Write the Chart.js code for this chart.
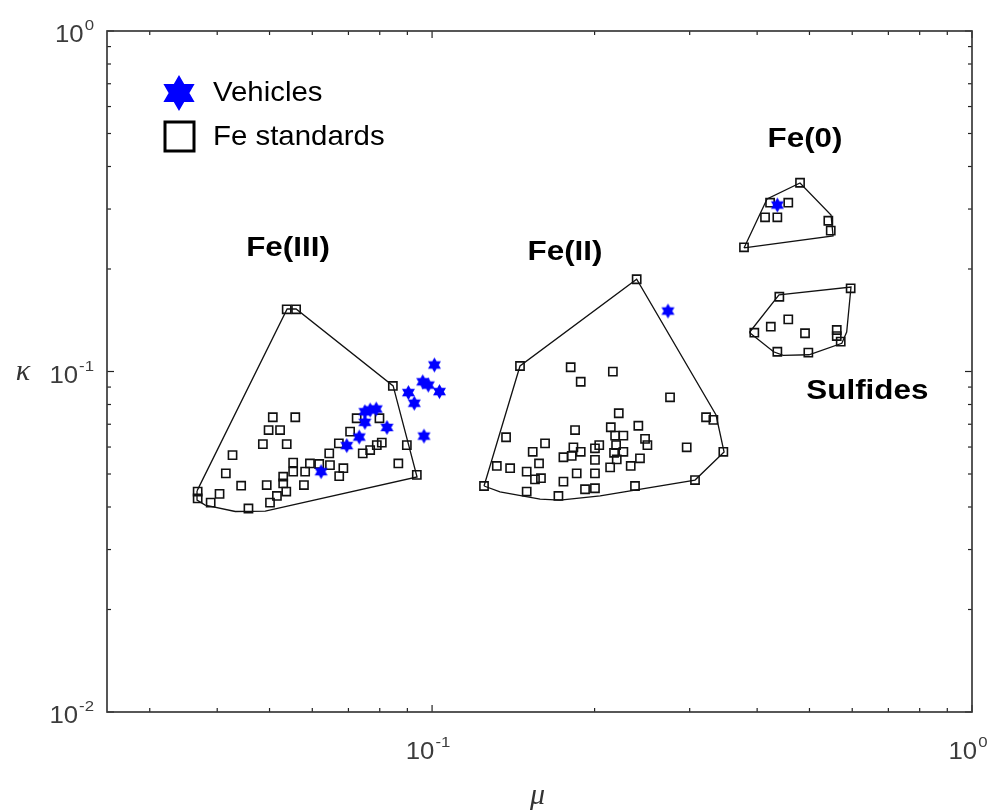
<!DOCTYPE html>
<html>
<head>
<meta charset="utf-8">
<script src="https://cdn.jsdelivr.net/npm/chart.js@4/dist/chart.umd.min.js"></script>
<style>
  html, body { margin: 0; padding: 0; background: #fff; }
  #wrap { width: 997px; height: 810px; }
</style>
</head>
<body>
<div id="wrap"><canvas id="chart" width="997" height="810"></canvas></div>
<script>
// ---- Fe standards, [mu, kappa] ----
const fe3Standards = [
  [0.0538,0.1523],[0.0560,0.1523],[0.0846,0.0907],[0.0507,0.0734],[0.0558,0.0734],
  [0.0498,0.0673],[0.0523,0.0673],[0.0486,0.0612],[0.0538,0.0612],[0.0427,0.0568],
  [0.0415,0.0502],[0.0443,0.0462],[0.0368,0.0444],[0.0368,0.0424],[0.0404,0.0437],
  [0.0389,0.0412],[0.0457,0.0396],[0.0501,0.0412],[0.0494,0.0464],[0.0516,0.0431],
  [0.0530,0.0469],[0.0537,0.0444],[0.0530,0.0491],[0.0553,0.0540],[0.0553,0.0508],
  [0.0579,0.0464],[0.0582,0.0508],[0.0594,0.0537],[0.0618,0.0535],[0.0645,0.0575],
  [0.0647,0.0531],[0.0672,0.0615],[0.0685,0.0520],[0.0673,0.0493],[0.0705,0.0666],
  [0.0725,0.0729],[0.0744,0.0575],[0.0768,0.0588],[0.0790,0.0608],[0.0807,0.0618],
  [0.0799,0.0729],[0.0898,0.0608],[0.0866,0.0537],[0.0937,0.0497]
];
const fe2Standards = [
  [0.2393,0.1866],[0.1455,0.1038],[0.1806,0.1029],[0.2162,0.0999],[0.1885,0.0933],
  [0.2759,0.0840],[0.2217,0.0754],[0.3217,0.0734],[0.3319,0.0721],[0.1371,0.0641],
  [0.1840,0.0673],[0.2143,0.0686],[0.2410,0.0693],[0.2183,0.0648],[0.2261,0.0648],
  [0.2480,0.0634],[0.2505,0.0608],[0.1619,0.0615],[0.1536,0.0581],[0.1751,0.0560],
  [0.1814,0.0565],[0.1827,0.0599],[0.1885,0.0581],[0.2003,0.0595],[0.2040,0.0608],
  [0.2003,0.0550],[0.2192,0.0608],[0.2173,0.0577],[0.2261,0.0581],[0.2198,0.0552],
  [0.2427,0.0556],[0.2333,0.0528],[0.2137,0.0523],[0.2962,0.0599],[0.3463,0.0581],
  [0.1318,0.0528],[0.1395,0.0520],[0.1497,0.0508],[0.1578,0.0537],[0.1551,0.0482],
  [0.1591,0.0486],[0.1853,0.0502],[0.2003,0.0502],[0.1751,0.0475],[0.1920,0.0451],
  [0.2003,0.0454],[0.1248,0.0461],[0.1497,0.0444],[0.1714,0.0431],[0.2376,0.0461],
  [0.3069,0.0480]
];
const fe0Standards = [
  [0.4803,0.3584],[0.4227,0.3131],[0.4568,0.3131],[0.4137,0.2837],[0.4360,0.2837],
  [0.5419,0.2772],[0.5475,0.2592],[0.3782,0.2316]
];
const sulfideStandards = [
  [0.5960,0.1755],[0.4397,0.1658],[0.4568,0.1423],[0.4240,0.1354],[0.3952,0.1300],
  [0.4906,0.1295],[0.5617,0.1324],[0.5617,0.1271],[0.5713,0.1224],[0.4360,0.1143],
  [0.4976,0.1136]
];

// ---- Vehicle samples, [mu, kappa] ----
const vehicles = [
  [0.1010,0.1045],[0.0961,0.0933],[0.0984,0.0912],[0.1032,0.0873],[0.0904,0.0867],
  [0.0927,0.0807],[0.0966,0.0646],[0.0751,0.0762],[0.0788,0.0776],[0.0768,0.0771],
  [0.0751,0.0709],[0.0825,0.0685],[0.0733,0.0642],[0.0695,0.0606],[0.0623,0.0508],
  [0.2735,0.1505],[0.4360,0.3083]
];

// ---- Region outlines (closed polygons), [mu, kappa] ----
const fe3Outline = [
  [0.0367,0.0446],[0.0539,0.1526],[0.0560,0.1526],[0.0847,0.0907],[0.0938,0.0490],
  [0.0491,0.0389],[0.0432,0.0388],[0.0380,0.0405],[0.0367,0.0419],[0.0367,0.0446]
];
const fe2Outline = [
  [0.1248,0.0461],[0.1455,0.1038],[0.2393,0.1866],[0.3357,0.0745],[0.3474,0.0580],
  [0.3069,0.0480],[0.2048,0.0431],[0.1726,0.0419],[0.1585,0.0422],[0.1336,0.0443],
  [0.1248,0.0461]
];
const fe0Outline = [
  [0.3782,0.2306],[0.4173,0.3210],[0.4803,0.3578],[0.5482,0.2882],[0.5529,0.2500],
  [0.3782,0.2306]
];
const sulfideOutline = [
  [0.3870,0.1302],[0.4391,0.1680],[0.5969,0.1770],[0.5860,0.1306],[0.5740,0.1210],
  [0.4990,0.1120],[0.4470,0.1115],[0.4290,0.1143],[0.3870,0.1302]
];

// ---- Axis ticks ----
const xMajorTicks = [0.1, 1];
const xTickExponents = ['-1', '0'];
const yMajorTicks = [1, 0.1, 0.01];
const yTickExponents = ['0', '-1', '-2'];

// ---- Region names, placed at [mu, kappa] ----
const regionNames = ['Fe(III)', 'Fe(II)', 'Fe(0)', 'Sulfides'];
const regionAnchors = [[0.0541, 0.2300], [0.1763, 0.2240], [0.4906, 0.4800], [0.6400, 0.0875]];

const STAR_BLUE = '#0000ff';
const FONT = '"Liberation Sans", Arial, sans-serif';

function hexagramPath(ctx, cx, cy, r) {
  ctx.beginPath();
  for (let t = 0; t < 2; t++) {
    for (let k = 0; k < 3; k++) {
      const ang = (t === 0 ? -Math.PI / 2 : Math.PI / 2) + k * 2 * Math.PI / 3;
      const px = cx + r * Math.cos(ang), py = cy + r * Math.sin(ang);
      if (k === 0) ctx.moveTo(px, py); else ctx.lineTo(px, py);
    }
    ctx.closePath();
  }
}

function makeStarSprite(r) {
  const size = Math.ceil(r * 2 + 2);
  const c = document.createElement('canvas');
  c.width = size; c.height = size;
  const g = c.getContext('2d');
  hexagramPath(g, size / 2, size / 2, r);
  g.fillStyle = STAR_BLUE;
  g.fill('nonzero');
  return c;
}
const starSprite = makeStarSprite(7.5);

const toXY = arr => arr.map(p => ({ x: p[0], y: p[1] }));

function outlineDataset(arr) {
  return {
    data: toXY(arr), showLine: true, pointRadius: 0, borderColor: '#111',
    borderWidth: 1.3, fill: false, tension: 0, order: 3
  };
}
function squaresDataset(arr) {
  return {
    data: toXY(arr), pointStyle: 'rect', pointRadius: 5.8, borderColor: '#111',
    borderWidth: 1.6, backgroundColor: 'rgba(255,255,255,0)', showLine: false, order: 2
  };
}

// text drawn with a slight horizontal widening, anchored at (x, y)
function wideText(ctx, text, x, y, sx, align) {
  const w = ctx.measureText(text).width * sx;
  const left = align === 'center' ? x - w / 2 : (align === 'right' ? x - w : x);
  ctx.save();
  ctx.textAlign = 'left';
  ctx.translate(left, y);
  ctx.scale(sx, 1);
  ctx.fillText(text, 0, 0);
  ctx.restore();
  return w;
}

// draws "10" with a raised exponent; align 'center' or 'right'
function drawPower(ctx, exp, x, yMid, align) {
  const sx = 1.12;
  const baseFont = '23px ' + FONT, expFont = '15px ' + FONT;
  ctx.font = baseFont; const wb = ctx.measureText('10').width * sx;
  ctx.font = expFont; const we = ctx.measureText(exp).width * sx;
  const total = wb + we + 1;
  const left = align === 'right' ? x - total : x - total / 2;
  ctx.textBaseline = 'middle';
  ctx.font = baseFont; wideText(ctx, '10', left, yMid + 5, sx, 'left');
  ctx.font = expFont; wideText(ctx, exp, left + wb + 1, yMid - 5, sx, 'left');
}

const framePlugin = {
  id: 'frame',
  afterDatasetsDraw(chart) {
    const { ctx, chartArea: a, scales: { x, y } } = chart;
    ctx.save();
    const seg = (x1, y1, x2, y2) => { ctx.beginPath(); ctx.moveTo(x1, y1); ctx.lineTo(x2, y2); ctx.stroke(); };

    // minor and major ticks, drawn inward on all four sides
    ctx.strokeStyle = '#222'; ctx.lineWidth = 1.2;
    for (let d = -2; d <= -1; d++) {
      for (let m = 2; m <= 9; m++) {
        const v = m * Math.pow(10, d);
        if (v >= 0.025 && v < 1) {
          const px = x.getPixelForValue(v);
          seg(px, a.bottom, px, a.bottom - 4);
          seg(px, a.top, px, a.top + 4);
        }
        const py = y.getPixelForValue(v);
        seg(a.left, py, a.left + 4, py);
        seg(a.right, py, a.right - 4, py);
      }
    }
    xMajorTicks.forEach(v => {
      const px = x.getPixelForValue(v);
      seg(px, a.bottom, px, a.bottom - 7);
      seg(px, a.top, px, a.top + 7);
    });
    yMajorTicks.forEach(v => {
      const py = y.getPixelForValue(v);
      seg(a.left, py, a.left + 7, py);
      seg(a.right, py, a.right - 7, py);
    });

    // plot box
    ctx.strokeStyle = '#3a3a3a'; ctx.lineWidth = 1.7;
    ctx.strokeRect(a.left, a.top, a.right - a.left, a.bottom - a.top);

    // tick labels
    ctx.fillStyle = '#3c3c3c';
    xMajorTicks.forEach((v, i) => drawPower(ctx, xTickExponents[i], x.getPixelForValue(v) - 4, a.bottom + 36, 'center'));
    yMajorTicks.forEach((v, i) => drawPower(ctx, yTickExponents[i], a.left - 13, y.getPixelForValue(v), 'right'));

    // axis titles
    ctx.fillStyle = '#333';
    ctx.textAlign = 'center'; ctx.textBaseline = 'middle';
    ctx.font = 'italic 30px "Liberation Serif", "Times New Roman", serif';
    ctx.fillText('\u03bc', (a.left + a.right) / 2 - 2, 796);
    ctx.fillText('\u03ba', 23, y.getPixelForValue(0.1) + 1);

    // region names
    ctx.fillStyle = '#000';
    ctx.font = 'bold 28px ' + FONT;
    regionNames.forEach((t, i) => {
      wideText(ctx, t, x.getPixelForValue(regionAnchors[i][0]), y.getPixelForValue(regionAnchors[i][1]), 1.12, 'center');
    });

    // legend
    hexagramPath(ctx, 179, 93, 18);
    ctx.fillStyle = STAR_BLUE; ctx.fill('nonzero');
    ctx.strokeStyle = '#000'; ctx.lineWidth = 3;
    ctx.strokeRect(165, 122, 29, 29);
    ctx.fillStyle = '#000';
    ctx.font = '28px ' + FONT;
    wideText(ctx, 'Vehicles', 213, 93, 1.05, 'left');
    wideText(ctx, 'Fe standards', 213, 137, 1.05, 'left');
    ctx.restore();
  }
};

new Chart(document.getElementById('chart').getContext('2d'), {
  type: 'scatter',
  data: {
    datasets: [
      outlineDataset(fe3Outline), outlineDataset(fe2Outline),
      outlineDataset(fe0Outline), outlineDataset(sulfideOutline),
      squaresDataset(fe3Standards), squaresDataset(fe2Standards),
      squaresDataset(fe0Standards), squaresDataset(sulfideStandards),
      { label: 'Vehicles', data: toXY(vehicles), pointStyle: starSprite, pointRadius: 8, order: 1 }
    ]
  },
  options: {
    responsive: false,
    animation: false,
    devicePixelRatio: 1,
    layout: { padding: { left: 107, right: 25, top: 31, bottom: 98 } },
    plugins: { legend: { display: false }, tooltip: { enabled: false } },
    scales: {
      x: { type: 'logarithmic', min: 0.025, max: 1, display: false },
      y: { type: 'logarithmic', min: 0.01, max: 1, display: false }
    }
  },
  plugins: [framePlugin]
});
</script>
</body>
</html>
